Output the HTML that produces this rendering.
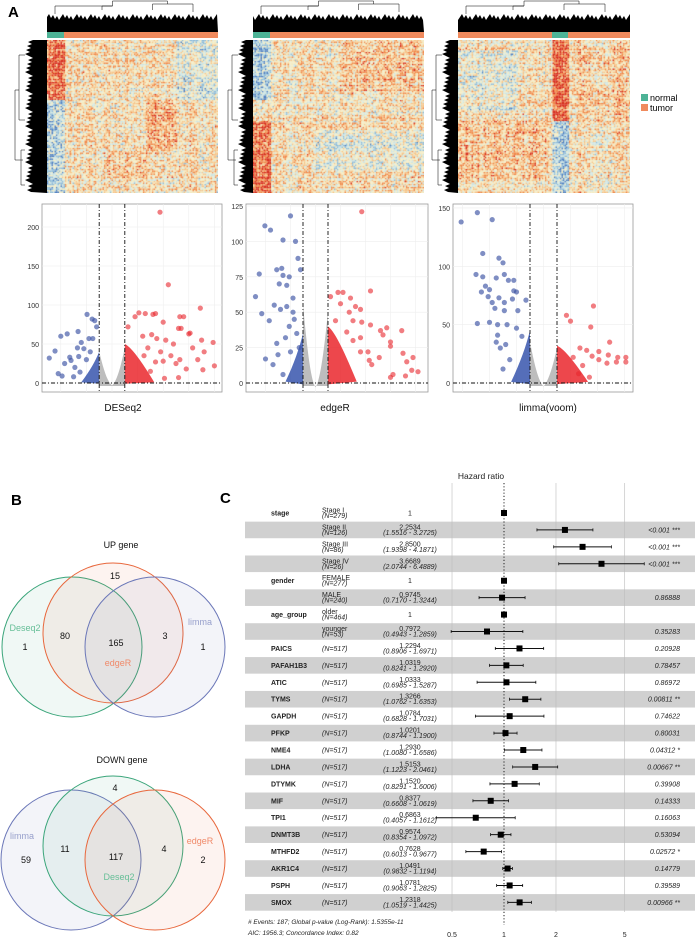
<!DOCTYPE html>
<html><head><meta charset="utf-8">
<style>
html,body{margin:0;padding:0;background:#fff;}
body{width:695px;height:940px;position:relative;overflow:hidden;font-family:"Liberation Sans",sans-serif;}
canvas{position:absolute;}
svg{position:absolute;left:0;top:0;}
</style></head>
<body>
<canvas id="hm1" style="left:47px;top:40px" width="171" height="153"></canvas>
<canvas id="hm2" style="left:253px;top:40px" width="171" height="153"></canvas>
<canvas id="hm3" style="left:458px;top:40px" width="172" height="153"></canvas>
<svg id="main" width="695" height="940" xmlns="http://www.w3.org/2000/svg" font-family="Liberation Sans, sans-serif">
  <text x="8" y="17" font-size="15" font-weight="bold">A</text>
  <text x="11" y="505" font-size="15" font-weight="bold">B</text>
  <text x="220" y="503" font-size="15" font-weight="bold">C</text>
  <g>
    <rect x="641" y="94" width="7" height="7" fill="#4db396"/>
    <text x="650" y="101" font-size="9">normal</text>
    <rect x="641" y="104" width="7" height="7" fill="#f08a5d"/>
    <text x="650" y="111" font-size="9">tumor</text>
  </g>
  <g id="dendros"></g>
  <g id="volc"></g>
  <g id="venn"></g>
  <g id="forest"></g>
</svg>
<script>
// ---------- Volcano data (log2FC, -log10 p) ----------
const v1Blue=[[-4.9,32],[-4.45,41],[-4.0,60],[-3.5,63],[-2.65,66],[-1.95,88],[-1.55,82],[-1.35,80],[-1.2,72],[-3.9,9],[-3.7,25],[-3.3,33],[-3.2,29],[-2.7,45],[-2.4,52],[-2.2,44],[-1.8,57],[-1.5,57],[-2.9,20],[-2.5,14],[-3.0,8],[-4.2,12],[-2.0,30],[-1.7,40],[-2.6,34]];
const v1Red=[[3.75,219],[4.4,126],[6.9,96],[1.25,72],[1.8,85],[2.1,90],[2.6,89],[3.2,88],[3.4,89],[4.0,78],[5.3,85],[5.6,85],[5.2,70],[5.4,70],[6.0,63],[6.1,64],[7.0,55],[7.9,52],[7.2,40],[7.1,17],[8.0,22],[6.7,30],[4.8,50],[4.2,55],[3.5,57],[3.1,62],[2.4,60],[4.0,28],[5.0,25],[5.3,30],[3.4,27],[5.2,7],[4.1,6],[2.8,45],[3.8,40],[4.6,35],[3.0,15],[2.5,35],[5.8,18],[6.3,45]];
const v2Blue=[[-4.8,61],[-4.5,77],[-4.05,111],[-3.6,108],[-2.6,101],[-2,118],[-1.6,100],[-1.4,88],[-1.2,80],[-4.3,49],[-3.7,44],[-3.3,55],[-3.1,80],[-2.7,81],[-2.6,76],[-2.1,75],[-2.9,70],[-2.3,69],[-2.8,52],[-2.3,54],[-1.8,60],[-1.8,50],[-4.0,17],[-3.4,13],[-3.1,28],[-3.0,20],[-2.4,32],[-2.1,40],[-1.7,45],[-2.6,6],[-1.5,35],[-1.3,25],[-2.0,22]];
const v2Red=[[3.7,121],[4.4,65],[1.2,61],[1.8,64],[2.2,64],[2,56],[2.8,60],[3.2,54],[2.7,50],[3.6,52],[1.6,44],[3,44],[3.7,43],[4.4,41],[5.2,37],[5.7,39],[6.9,37],[5.4,34],[6,29],[6,26],[7,21],[7.8,18],[7.3,15],[7.7,9],[8.2,8],[7.2,5],[6.2,6],[6,4],[5.1,18],[4.5,13],[4.3,16],[3.6,32],[3,30],[2.5,36],[4.2,22],[3.6,22]];
const v3Blue=[[-6.1,138],[-4.9,146],[-3.8,140],[-4.5,111],[-5.0,93],[-4.5,91],[-3.3,107],[-3.0,103],[-3.5,90],[-2.9,93],[-2.6,88],[-2.2,88],[-4.3,83],[-4.0,80],[-4.6,78],[-4.1,74],[-2.2,79],[-2,78],[-3.8,69],[-3.3,73],[-2.9,69],[-2.3,72],[-1.3,71],[-4.9,51],[-4.0,52],[-3.6,64],[-2.9,62],[-1.9,62],[-3.4,50],[-2.7,50],[-2,47],[-3.5,35],[-2.8,33],[-3.2,30],[-3.4,41],[-2.5,20],[-3.0,12],[-1.6,40]];
const v3Red=[[3.7,66],[1.7,58],[2.0,53],[3.5,48],[4.9,35],[6.1,22],[6.1,18],[5.5,22],[4.8,24],[4.1,27],[3.2,28],[2.7,30],[4.1,20],[4.7,17],[3.4,5],[2.6,8],[3.6,23],[5.4,18],[2.9,15],[2.2,22]];
const v1Ticks=[0,50,100,150,200], v2Ticks=[0,25,50,75,100,125], v3Ticks=[0,50,100,150];

// ---------- Forest data ----------
const fVar=["stage","","","","gender","","age_group","","PAICS","PAFAH1B3","ATIC","TYMS","GAPDH","PFKP","NME4","LDHA","DTYMK","MIF","TPI1","DNMT3B","MTHFD2","AKR1C4","PSPH","SMOX"];
const fLevel=["Stage I","Stage II","Stage III","Stage IV","FEMALE","MALE","older","younger","","","","","","","","","","","","","","","",""];
const fN=[279,126,86,26,277,240,464,53,517,517,517,517,517,517,517,517,517,517,517,517,517,517,517,517];
const fHR=[1,2.2534,2.8500,3.6689,1,0.9745,1,0.7972,1.2294,1.0319,1.0333,1.3266,1.0784,1.0201,1.2930,1.5153,1.1520,0.8377,0.6863,0.9574,0.7628,1.0491,1.0781,1.2318];
const fLo=[null,1.5516,1.9398,2.0744,null,0.7170,null,0.4943,0.8906,0.8241,0.6985,1.0762,0.6828,0.8744,1.0080,1.1223,0.8291,0.6608,0.4057,0.8354,0.6013,0.9832,0.9063,1.0519];
const fHi=[null,3.2725,4.1871,6.4889,null,1.3244,null,1.2859,1.6971,1.2920,1.5287,1.6353,1.7031,1.1900,1.6586,2.0461,1.6006,1.0619,1.1612,1.0972,0.9677,1.1194,1.2825,1.4425];
const fP=["","<0.001 ***","<0.001 ***","<0.001 ***","","0.86888","","0.35283","0.20928","0.78457","0.86972","0.00811 **","0.74622","0.80031","0.04312 *","0.00667 **","0.39908","0.14333","0.16063","0.53094","0.02572 *","0.14779","0.39589","0.00966 **"];
const fTicks=[0.5,1,2,5];

const NS="http://www.w3.org/2000/svg";
function mk(tag,attrs,parent){const e=document.createElementNS(NS,tag);for(const k in attrs)e.setAttribute(k,attrs[k]);parent.appendChild(e);return e;}

// ---------- Heatmaps (decorative texture) ----------
let seed=7;function rnd(){seed=(seed*16807)%2147483647;return seed/2147483647;}
function drawHeat(id,blocks,baseBias){
  const c=document.getElementById(id),ctx=c.getContext('2d');const W=c.width,H=c.height;
  const colb=[];for(let x=0;x<W;x+=1.5)colb.push((rnd()-0.5)*0.5);
  for(let y=0;y<H;y+=1.5){const rb=(rnd()-0.5)*0.5;let k=0;for(let x=0;x<W;x+=1.5,k++){
    let v=baseBias+rb+colb[k]+(rnd()-0.5)*1.7;
    for(const b of blocks){if(x>=b[0]&&x<b[1]&&y>=b[2]&&y<b[3])v+=b[4];}
    let col;
    if(v>1.3)col='#d7301f';else if(v>0.75)col='#f08a4b';else if(v>0.3)col='#f6c58a';else if(v>-0.3)col='#f4ecc4';else if(v>-0.8)col='#cfe5e2';else if(v>-1.3)col='#8fbcd8';else col='#4f7fbf';
    ctx.fillStyle=col;ctx.fillRect(x,y,1.6,1.6);}}
}
drawHeat('hm1',[[0,17,0,60,1.0],[0,17,60,153,-0.9],[100,130,60,110,0.5],[130,171,0,60,-0.5],[60,100,110,140,0.3]],0.15);
drawHeat('hm2',[[0,17,0,60,-1.0],[0,17,80,153,1.0],[90,171,0,50,0.3],[60,171,90,130,-0.4]],0.15);
drawHeat('hm3',[[94,110,0,80,1.1],[94,110,80,153,-1.0],[0,60,10,70,-0.4],[0,90,80,140,0.3],[115,171,0,80,0.25]],0.15);

// ---------- Dendrograms ----------
const dg=document.getElementById('dendros');
function topDend(x0,x1,name,teal0,teal1){
  const g=mk('g',{},dg);
  let d='M'+x0+' 32';for(let x=x0;x<=x1;x+=2){d+=' L'+x+' '+(14+((x*37)%7));}d+=' L'+x1+' 32 Z';
  mk('path',{d:d,fill:'#000'},g);
  const m=(x0+x1)/2;
  mk('path',{d:`M${x0+8} 14 V6 H${m-20} V1 H${m+35} V4 H${x1-25} V12 M${m-20} 6 H${x0+55} V10 M${m+35} 4 H${m+20} V10`,fill:'none',stroke:'#000','stroke-width':0.5},g);
  mk('rect',{x:x0,y:32,width:x1-x0,height:6,fill:'#f08a5d'},g);
  mk('rect',{x:teal0,y:32,width:teal1-teal0,height:6,fill:'#4db396'},g);
}
function leftDend(x0,x1,name){
  const g=mk('g',{},dg);
  let d='M'+x1+' 40';for(let y=40;y<=193;y+=2){d+=' L'+(x0+10+((y*29)%9))+' '+y;}d+=' L'+x1+' 193 Z';
  mk('path',{d:d,fill:'#000'},g);
  mk('path',{d:`M${x0+10} 55 H${x0+4} V120 H${x0+10} M${x0+4} 90 H${x0} V160 H${x0+8} M${x0+10} 150 H${x0+6} V185 H${x0+10}`,fill:'none',stroke:'#000','stroke-width':0.5},g);
}
topDend(47,218,'top-dendrogram-deseq2',47,64);leftDend(15,47,'left-dendrogram-deseq2');
topDend(253,424,'top-dendrogram-edger',253,270);leftDend(228,253,'left-dendrogram-edger');
topDend(458,630,'top-dendrogram-limma',552,568);leftDend(432,458,'left-dendrogram-limma');

// ---------- Volcano plots ----------
const vg=document.getElementById('volc');
function volcano(cfg){
  const {L,R,c0,sx,sy,ticks,blue,red,label,lx,name,maxBlue,maxRed,cl,cr}=cfg;
  const T=204,B=392,Y0=383;
  const X=f=>c0+f*sx, Y=v=>Y0-v*sy;
  const g=mk('g',{},vg);
  mk('rect',{x:L,y:T,width:R-L,height:B-T,fill:'#fff',stroke:'#999','stroke-width':0.8},g);
  for(const t of ticks){mk('line',{x1:L,x2:R,y1:Y(t),y2:Y(t),stroke:'#eee','stroke-width':0.6},g);
    const tx=mk('text',{x:L-3,y:Y(t)+3,'font-size':7,'text-anchor':'end',fill:'#333'},g);tx.textContent=t;
    }
  for(let f=-6;f<=9;f+=2){if(X(f)>L&&X(f)<R)mk('line',{x1:X(f),x2:X(f),y1:T,y2:B,stroke:'#eee','stroke-width':0.6},g);}
  // grey non-significant V
  mk('path',{d:`M${X(-1)} ${Y(cl)} C${X(-0.7)} ${Y(cl*0.5)} ${X(-0.4)} ${Y(2)} ${X(0)} ${Y(-3)} C${X(0.4)} ${Y(2)} ${X(0.7)} ${Y(cr*0.5)} ${X(1)} ${Y(cr)} L${X(1)} ${Y0+3} L${X(-1)} ${Y0+3} Z`,fill:'#bdbdbd'},g);
  // dense clusters
  mk('path',{d:`M${X(-1)} ${Y(maxBlue)} C${X(-1.3)} ${Y(maxBlue*0.7)} ${X(-1.7)} ${Y(maxBlue*0.4)} ${X(-2.4)} ${Y(1)} L${X(-1)} ${Y(-1)} Z`,fill:'#2b4aa8',opacity:0.8},g);
  mk('path',{d:`M${X(1)} ${Y(maxRed)} C${X(1.6)} ${Y(maxRed*0.9)} ${X(2.4)} ${Y(maxRed*0.5)} ${X(3.3)} ${Y(1)} L${X(1)} ${Y(-1)} Z`,fill:'#e8191f',opacity:0.8},g);
  for(const p of blue){const c=mk('circle',{cx:X(p[0]),cy:Y(p[1]),r:2.6,fill:'#3a51a3','fill-opacity':0.65},g);}
  for(const p of red){const c=mk('circle',{cx:X(p[0]),cy:Y(p[1]),r:2.6,fill:'#e8262d','fill-opacity':0.6},g);}
  mk('line',{x1:X(-1),x2:X(-1),y1:T,y2:B,stroke:'#111','stroke-width':0.9,'stroke-dasharray':'4 2 1 2'},g);
  mk('line',{x1:X(1),x2:X(1),y1:T,y2:B,stroke:'#111','stroke-width':0.9,'stroke-dasharray':'4 2 1 2'},g);
  mk('line',{x1:L,x2:R,y1:Y0,y2:Y0,stroke:'#111','stroke-width':0.9,'stroke-dasharray':'4 2 1 2'},g);
  const t=mk('text',{x:lx,y:411,'font-size':10,'text-anchor':'middle',fill:'#111'},g);t.textContent=label;
  
}
volcano({L:42,R:222,c0:112,sx:12.8,sy:0.78,ticks:v1Ticks,blue:v1Blue,red:v1Red,label:'DESeq2',lx:123,name:'volcano-deseq2',maxBlue:40,maxRed:50,cl:40,cr:45});
volcano({L:246,R:428,c0:315.5,sx:12.5,sy:1.416,ticks:v2Ticks,blue:v2Blue,red:v2Red,label:'edgeR',lx:335,name:'volcano-edger',maxBlue:35,maxRed:40,cl:55,cr:50});
volcano({L:453,R:633,c0:543.5,sx:13.5,sy:1.167,ticks:v3Ticks,blue:v3Blue,red:v3Red,label:'limma(voom)',lx:548,name:'volcano-limma',maxBlue:45,maxRed:32,cl:35,cr:30});

// ---------- Venn ----------
const vn=document.getElementById('venn');
function circ(cx,cy,col,name){const c=mk('circle',{cx:cx,cy:cy,r:70,fill:col,'fill-opacity':0.08,stroke:col,'stroke-width':1},vn);}
function txt(x,y,s,col,name,size){const t=mk('text',{x:x,y:y,'font-size':size||9,'text-anchor':'middle',fill:col||'#111'},vn);t.textContent=s;}
txt(121,548,'UP gene','#111','venn-up-title',9);
circ(72,647,'#3aa57a','up-deseq2-circle');circ(113,633,'#e8673c','up-edger-circle');circ(155,647,'#6b77b8','up-limma-circle');
txt(115,579,'15','#111','up-edger-only');txt(25,631,'Deseq2','#67bf98','up-deseq2-label',9);txt(25,650,'1','#111','up-deseq2-only');
txt(65,639,'80','#111','up-deseq2-edger');txt(116,646,'165','#111','up-all-three');txt(118,666,'edgeR','#f08a6a','up-edger-label',9);
txt(165,639,'3','#111','up-edger-limma');txt(200,625,'limma','#98a0cc','up-limma-label',9);txt(203,650,'1','#111','up-limma-only');
txt(122,763,'DOWN gene','#111','venn-down-title',9);
circ(71,860,'#6b77b8','down-limma-circle');circ(113,846,'#3aa57a','down-deseq2-circle');circ(155,860,'#e8673c','down-edger-circle');
txt(115,791,'4','#111','down-deseq2-only');txt(22,839,'limma','#98a0cc','down-limma-label',9);txt(26,863,'59','#111','down-limma-only');
txt(65,852,'11','#111','down-limma-deseq2');txt(116,860,'117','#111','down-all-three');txt(119,880,'Deseq2','#67bf98','down-deseq2-label',9);
txt(164,852,'4','#111','down-deseq2-edger');txt(200,844,'edgeR','#f08a6a','down-edger-label',9);txt(203,863,'2','#111','down-edger-only');

// ---------- Forest plot ----------
const fg=document.getElementById('forest');
const LX=v=>504+Math.log10(v)*172.7;
const RY=i=>513+i*16.93;
function ft(x,y,s,attrs,name){const t=mk('text',Object.assign({x:x,y:y,'font-size':7,fill:'#222'},attrs),fg);t.textContent=s;return t;}
ft(481,479,'Hazard ratio',{'font-size':8.5,'text-anchor':'middle'},'forest-axis-title');
for(let i=0;i<fHR.length;i++){if(i%2===1){const r=mk('rect',{x:245,y:RY(i)-8.3,width:450,height:16.6,fill:'#d0d0d0'},fg);}}
for(const t of fTicks){mk('line',{x1:LX(t),x2:LX(t),y1:483,y2:912,stroke:t===1?'none':'#bbb','stroke-width':0.6},fg);
  ft(LX(t),937,String(t),{'text-anchor':'middle'},'forest-x-tick');}
mk('line',{x1:LX(1),x2:LX(1),y1:483,y2:925,stroke:'#222','stroke-width':1,'stroke-dasharray':'1.2 2'},fg);
for(let i=0;i<fHR.length;i++){
  const y=RY(i);
  if(fVar[i])ft(271,y+2.5,fVar[i],{'font-weight':'bold'},'variable-label');
  if(fLevel[i]){ft(322,y-0.5,fLevel[i],{},'level-label');ft(322,y+5,'(N='+fN[i]+')',{'font-style':'italic'},'n-label');}
  else ft(322,y+2.5,'(N='+fN[i]+')',{'font-style':'italic'},'n-label');
  if(fLo[i]===null){ft(410,y+2.5,'1',{'text-anchor':'middle'},'hr-value');}
  else{ft(410,y-0.5,fHR[i].toFixed(4),{'text-anchor':'middle'},'hr-value');
    ft(410,y+5,'('+fLo[i].toFixed(4)+' - '+fHi[i].toFixed(4)+')',{'text-anchor':'middle','font-style':'italic'},'ci-value');
    const l=mk('line',{x1:LX(fLo[i]),x2:LX(fHi[i]),y1:y,y2:y,stroke:'#111','stroke-width':1},fg);
    mk('line',{x1:LX(fLo[i]),x2:LX(fLo[i]),y1:y-1.5,y2:y+1.5,stroke:'#111','stroke-width':0.8},fg);
    mk('line',{x1:LX(fHi[i]),x2:LX(fHi[i]),y1:y-1.5,y2:y+1.5,stroke:'#111','stroke-width':0.8},fg);}
  const s=mk('rect',{x:LX(fHR[i])-3,y:y-3,width:6,height:6,fill:'#000'},fg);
  if(fP[i])ft(680,y+2.5,fP[i],{'text-anchor':'end','font-style':'italic'},'p-value');
}
ft(248,924,'# Events: 187; Global p-value (Log-Rank): 1.5355e-11',{'font-style':'italic','font-size':6.5},'forest-footnote-1');
ft(248,935,'AIC: 1956.3; Concordance Index: 0.82',{'font-style':'italic','font-size':6.5},'forest-footnote-2');
</script>
</body></html>
